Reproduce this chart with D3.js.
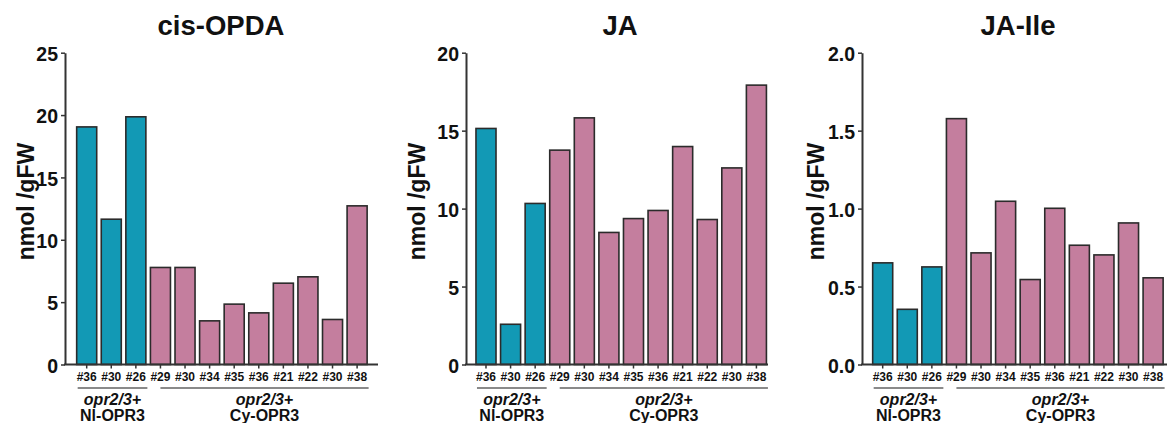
<!DOCTYPE html>
<html>
<head>
<meta charset="utf-8">
<script src="https://cdn.jsdelivr.net/npm/d3@7"></script>
<style>
  body { margin: 0; background: #fff; }
  svg text { font-family: "Liberation Sans", Arial, sans-serif; font-weight: bold; fill: #111; }
</style>
</head>
<body>
<svg id="chart" width="1172" height="423"></svg>
<script>
// lines measured in each panel
const samples = ['#36', '#30', '#26', '#29', '#30', '#34', '#35', '#36', '#21', '#22', '#30', '#38'];
const sampleGroup = ['Nl', 'Nl', 'Nl', 'Cy', 'Cy', 'Cy', 'Cy', 'Cy', 'Cy', 'Cy', 'Cy', 'Cy'];
const groupNames = ['Nl', 'Cy'];
const groupLabels = ['Nl-OPR3', 'Cy-OPR3'];

// nmol / gFW
const cisOPDA = [19.05, 11.65, 19.86, 7.78, 7.78, 3.5, 4.84, 4.14, 6.52, 7.03, 3.61, 12.72];
const ja = [15.14, 2.58, 10.33, 13.75, 15.82, 8.47, 9.36, 9.88, 13.98, 9.3, 12.61, 17.92];
const jaIle = [0.652, 0.354, 0.626, 1.577, 0.716, 1.047, 0.545, 1.002, 0.765, 0.703, 0.908, 0.556];

const titles = ['cis-OPDA', 'JA', 'JA-Ile'];
const yMax = [25, 20, 2];
const yTicks = [[0, 5, 10, 15, 20, 25], [0, 5, 10, 15, 20], [0, 0.5, 1, 1.5, 2]];

const colors = { Nl: '#1299b5', Cy: '#c47e9e' };

const svg = d3.select('#chart');

// layout of each panel (pixel positions)
const panels = [
  { values: cisOPDA, ax: 65, axEnd: 378, bandStart: 74.4, titleX: 221, yTitleX: 34 },
  { values: ja, ax: 466, axEnd: 768, bandStart: 473.7, titleX: 620, yTitleX: 425 },
  { values: jaIle, ax: 862, axEnd: 1167, bandStart: 870.4, titleX: 1018, yTitleX: 824 }
];

const plotTop = 52.7, plotBottom = 364.5;
const bandWidth = 295;

panels.forEach(function(p, k) {
  const g = svg.append('g');

  const x = d3.scaleBand()
    .domain(d3.range(samples.length))
    .range([p.bandStart, p.bandStart + bandWidth])
    .paddingInner(0.185)
    .paddingOuter(0.0925);

  const y = d3.scaleLinear()
    .domain([0, yMax[k]])
    .range([plotBottom, plotTop]);

  // bars
  g.selectAll('rect')
    .data(p.values)
    .enter()
    .append('rect')
    .attr('x', function(d, i) { return x(i); })
    .attr('y', function(d) { return y(d); })
    .attr('width', x.bandwidth())
    .attr('height', function(d) { return plotBottom - y(d); })
    .attr('fill', function(d, i) { return colors[sampleGroup[i]]; })
    .attr('stroke', '#2b2b2b')
    .attr('stroke-width', 1.6);

  // y axis
  const yAxis = d3.axisLeft(y)
    .tickValues(yTicks[k])
    .tickFormat(k === 2 ? d3.format('.1f') : d3.format('d'))
    .tickSize(4)
    .tickSizeOuter(0)
    .tickPadding(3);

  const yg = g.append('g')
    .attr('transform', 'translate(' + p.ax + ',0)')
    .call(yAxis);
  yg.select('.domain').attr('stroke', '#333').attr('stroke-width', 2);
  yg.selectAll('.tick line').attr('stroke', '#333').attr('stroke-width', 1.5);
  yg.selectAll('.tick text')
    .attr('font-size', 19.5)
    .attr('font-family', '"Liberation Sans", Arial, sans-serif')
    .attr('font-weight', 'bold')
    .attr('fill', '#111')
    .attr('dy', '0.4em');

  // x axis line
  g.append('line')
    .attr('x1', p.ax - 1)
    .attr('x2', p.axEnd)
    .attr('y1', plotBottom)
    .attr('y2', plotBottom)
    .attr('stroke', '#333')
    .attr('stroke-width', 2);

  const xAxis = d3.axisBottom(x)
    .tickFormat(function(i) { return samples[i]; })
    .tickSize(4)
    .tickSizeOuter(0)
    .tickPadding(4);

  const xg = g.append('g')
    .attr('transform', 'translate(0,' + plotBottom + ')')
    .call(xAxis);
  xg.select('.domain').remove();
  xg.selectAll('.tick line').attr('stroke', '#333').attr('stroke-width', 1.5);
  xg.selectAll('.tick text')
    .attr('font-size', 12)
    .attr('font-family', '"Liberation Sans", Arial, sans-serif')
    .attr('font-weight', 'bold')
    .attr('fill', '#111');

  // group brackets and labels
  groupNames.forEach(function(gn, j) {
    const idx = d3.range(samples.length).filter(function(i) { return sampleGroup[i] === gn; });
    const x1 = x(idx[0]) + (j === 0 ? 1 : 10);
    const x2 = x(idx[idx.length - 1]) + x.bandwidth() + 1.5;
    g.append('line')
      .attr('x1', x1).attr('x2', x2)
      .attr('y1', 388).attr('y2', 388)
      .attr('stroke', '#8a8a8a')
      .attr('stroke-width', 2.2);
    const cx = (x1 + x2) / 2;
    g.append('text')
      .attr('x', cx).attr('y', 405)
      .attr('text-anchor', 'middle')
      .attr('font-size', 16)
      .attr('font-style', 'italic')
      .text('opr2/3+');
    g.append('text')
      .attr('x', cx).attr('y', 421)
      .attr('text-anchor', 'middle')
      .attr('font-size', 16)
      .text(groupLabels[j]);
  });

  // title
  g.append('text')
    .attr('x', p.titleX)
    .attr('y', 35)
    .attr('text-anchor', 'middle')
    .attr('font-size', 27.5)
    .text(titles[k]);

  // y title
  g.append('text')
    .attr('transform', 'translate(' + p.yTitleX + ',' + ((plotTop + plotBottom) / 2 - 7) + ') rotate(-90)')
    .attr('text-anchor', 'middle')
    .attr('font-size', 23)
    .text('nmol /gFW');
});
</script>
</body>
</html>
